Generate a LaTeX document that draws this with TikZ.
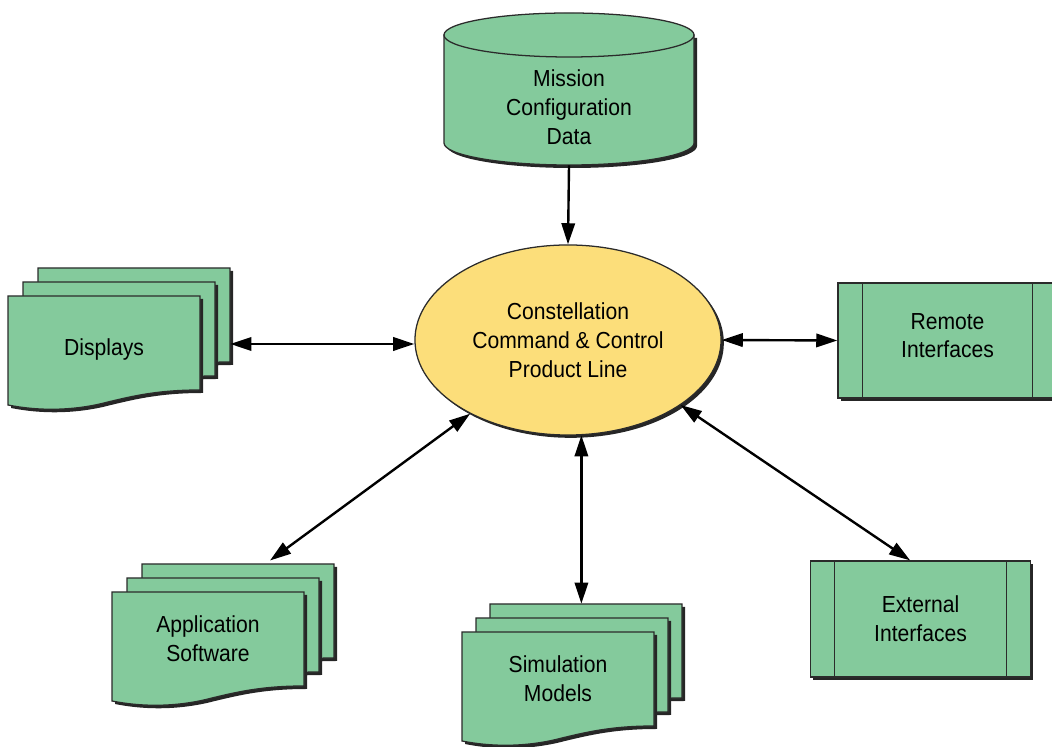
\documentclass[tikz,border=0pt]{standalone}
\usepackage{fontspec}
\setmainfont{Liberation Sans}[FakeStretch=0.91]
\usetikzlibrary{shapes.geometric,shadows,arrows.meta}
\definecolor{boxgreen}{HTML}{84CA9C}
\definecolor{hubyellow}{HTML}{FCDE7A}
\definecolor{edgegray}{HTML}{2B2B2B}

\begin{document}
\begin{tikzpicture}[
    x=0.025cm, y=0.025cm,
    >={Triangle[length=15pt,width=9.5pt]},
    txt/.style={align=center, font=\fontsize{16.5pt}{20.5pt}\selectfont, inner sep=0pt},
    outline/.style={draw=edgegray, line width=0.9pt},
    shade/.style={fill=black!85},
    hub/.style={ellipse, outline, fill=hubyellow, minimum width=7.65cm, minimum height=4.75cm,
        drop shadow={shadow xshift=2pt, shadow yshift=-2pt, fill=black, opacity=0.85}, txt},
    iface/.style={rectangle, outline, fill=boxgreen, minimum width=5.5cm, minimum height=2.9cm,
        drop shadow={shadow xshift=2pt, shadow yshift=-2pt, fill=black, opacity=0.85}, txt},
    doc/.style={minimum width=4.8cm, minimum height=2.35cm, txt},
    link/.style={<->, line width=1.7pt},
    sheet/.pic={
        \fill[shade, shift={(3,-3)}] (0,0) -- (192,0) -- (192,-94) .. controls (150,-94) and (125,-100) .. (100,-106)
            .. controls (70,-114) and (35,-116) .. (0,-109) -- cycle;
        \draw[outline, fill=boxgreen] (0,0) -- (192,0) -- (192,-94) .. controls (150,-94) and (125,-100) .. (100,-106)
            .. controls (70,-114) and (35,-116) .. (0,-109) -- cycle;
    },
]
    \useasboundingbox (0,0) rectangle (1052,747);

    % data store on top
    \fill[shade, shift={(3,-3)}] (444,712) -- (444,604) arc[start angle=180, end angle=360, x radius=3.125cm, y radius=0.55cm] -- (694,712) -- cycle;
    \draw[outline, fill=boxgreen] (444,712) -- (444,604) arc[start angle=180, end angle=360, x radius=3.125cm, y radius=0.55cm] -- (694,712) -- cycle;
    \draw[outline, fill=boxgreen] (569,712) ellipse[x radius=3.125cm, y radius=0.55cm];
    \node[txt, minimum width=6.25cm, minimum height=2.9cm] (mcd) at (569,640) {Mission\\Configuration\\Data};

    % product line in the middle
    \node[hub] (ccp) at (568,407) {Constellation\\Command \& Control\\Product Line};

    % stacked documents
    \foreach \k in {2,1,0} \pic at ({8+15*\k},{451+14*\k}) {sheet};
    \node[doc] (disp) at (104,397) {Displays};
    \foreach \k in {2,1,0} \pic at ({112+15*\k},{155+14*\k}) {sheet};
    \node[doc] (app) at (208,108) {Application\\Software};
    \foreach \k in {2,1,0} \pic at ({462+14*\k},{115+14*\k}) {sheet};
    \node[doc] (sim) at (558,68) {Simulation\\Models};

    % interfaces
    \node[iface, minimum width=5.475cm, minimum height=2.875cm] (rem) at (947.5,406.5) {Remote\\Interfaces\\[-13.5pt]};
    \node[iface] (ext) at (920.5,128) {External\\Interfaces};
    \foreach \n in {rem,ext} {
        \draw[outline] ([xshift=0.625cm]\n.north west) -- ([xshift=0.625cm]\n.south west);
        \draw[outline] ([xshift=-0.625cm]\n.north east) -- ([xshift=-0.625cm]\n.south east);
    }

    % connections
    \draw[->, line width=1.7pt] (mcd.south) -- (ccp.north);
    \draw[link] ([xshift=0.75cm,yshift=-0.1cm]disp.east |- ccp.west) -- ([yshift=-0.1cm]ccp.west);
    \draw[link] (ccp.east) -- (rem.west);
    \draw[link] (ccp.217) -- ([shift={(1.55cm,0.78cm)}]app.north);
    \draw[link] (ccp.278) -- ([yshift=0.7cm]sim.north -| ccp.278);
    \draw[link] (ccp.330) -- ([xshift=-0.26cm]ext.north);
\end{tikzpicture}
\end{document}
